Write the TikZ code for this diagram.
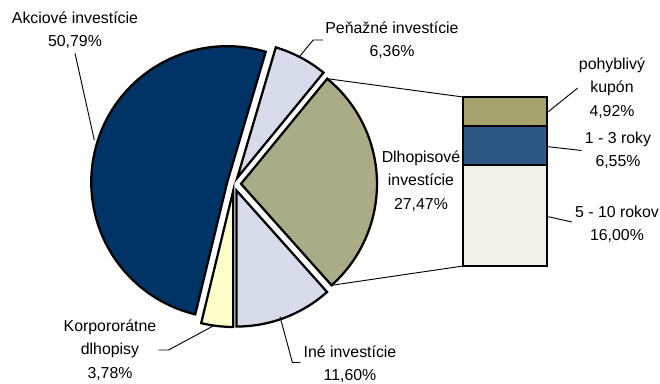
\documentclass[tikz,border=0pt]{standalone}
\usepackage{fontspec}
\setmainfont{Liberation Sans}
\usetikzlibrary{positioning}

\definecolor{akcie}{RGB}{0,51,102}
\definecolor{penazne}{RGB}{216,219,233}
\definecolor{dlhopisy}{RGB}{169,172,135}
\definecolor{korporatne}{RGB}{255,255,204}
\definecolor{kupon}{RGB}{166,163,110}
\definecolor{roky}{RGB}{46,88,132}
\definecolor{rokov}{RGB}{241,241,233}

\tikzset{
	slice/.style={draw=black, line width=1.7pt, line join=miter},
	lbl/.style={align=center, inner sep=0pt, font=\fontsize{11.9}{17.5}\selectfont},
	leader/.style={draw=black, line width=0.7pt}
}

\begin{document}
\begin{tikzpicture}[x=0.75pt, y=0.75pt]
	\useasboundingbox (0,0) rectangle (660,383);
	%Akciove investicie
		\draw[slice, fill=akcie, shift={(165:7)}] (234,199) -- ++(73.548:136)
			arc[start angle=73.548, end angle=256.392, radius=136] -- cycle;
	%Penazne investicie
		\draw[slice, fill=penazne, shift={(62.1:7)}] (234,199) -- ++(50.652:136)
			arc[start angle=50.652, end angle=73.548, radius=136] -- cycle;
	%Dlhopisove investicie
		\draw[slice, fill=dlhopisy, shift={(1.2:7)}] (234,199) -- ++(-48.24:136) coordinate (dbot)
			arc[start angle=-48.24, end angle=50.652, radius=136] coordinate (dtop) -- cycle;
	%Ine investicie
		\draw[slice, fill=penazne, shift={(-69.1:7)}] (234,199) -- ++(-90:136)
			arc[start angle=-90, end angle=-48.24, radius=136] -- cycle;
	%Korporatne dlhopisy
		\draw[slice, fill=korporatne, shift={(-96.8:7)}] (234,199) -- ++(256.392:136)
			arc[start angle=256.392, end angle=270, radius=136] -- cycle;
	%Bar
		\draw[slice, fill=rokov] (463,117) rectangle (547,218);
		\draw[slice, fill=roky] (463,218) rectangle (547,257);
		\draw[slice, fill=kupon] (463,257) rectangle (547,286);
		\coordinate (btop) at (463,286);
		\coordinate (bbot) at (463,117);
	%Bar -> pie
		\draw[leader] (dtop) -- (btop);
		\draw[leader] (dbot) -- (bbot);
	%Labels
		\node[lbl] (akcLbl) at (75,352.5) {Akciové investície\\50,79\%};
		\node[lbl] (penLbl) at (392,343) {Peňažné investície\\6,36\%};
		\node[lbl] (dlhLbl) at (421,202) {Dlhopisové\\investície\\27,47\%};
		\node[lbl] (kuponLbl) at (612,295) {pohyblivý\\kupón\\4,92\%};
		\node[lbl] (rokyLbl) at (618,232.5) {1 - 3 roky\\6,55\%};
		\node[lbl] (rokovLbl) at (617,159) {5 - 10 rokov\\16,00\%};
		\node[lbl] (korpLbl) at (110,33) {Korpororátne\\dlhopisy\\3,78\%};
		\node[lbl] (ineLbl) at (350,18.5) {Iné investície\\11,60\%};
	%Leaders
		\coordinate (akcEnd) at (94.3,243);
		\coordinate (penEnd) at (300,327);
		\coordinate (kuponEnd) at (548.3,271.3);
		\coordinate (rokyEnd) at (548,236.3);
		\coordinate (rokovEnd) at (548.3,166.3);
		\coordinate (korpEnd) at (215,58);
		\coordinate (ineEnd) at (280,66.3);
		\draw[leader] (akcLbl.south) ++(0,-4) -- (akcEnd);
		\draw[leader] (penLbl.west) ++(-2,0) -- ++(-10,0) -- (penEnd);
		\draw[leader] (kuponLbl.west) ++(-1,0) -- (kuponEnd);
		\draw[leader] (rokyLbl.west) ++(-3,0) -- (rokyEnd);
		\draw[leader] (rokovLbl.west) ++(-3,2) -- (rokovEnd);
		\draw[leader] (korpLbl.east) ++(2,0) -- ++(10,0) -- (korpEnd);
		\draw[leader] (ineLbl.west) ++(-3,2) -- ++(-8,0) -- (ineEnd);
\end{tikzpicture}
\end{document}
